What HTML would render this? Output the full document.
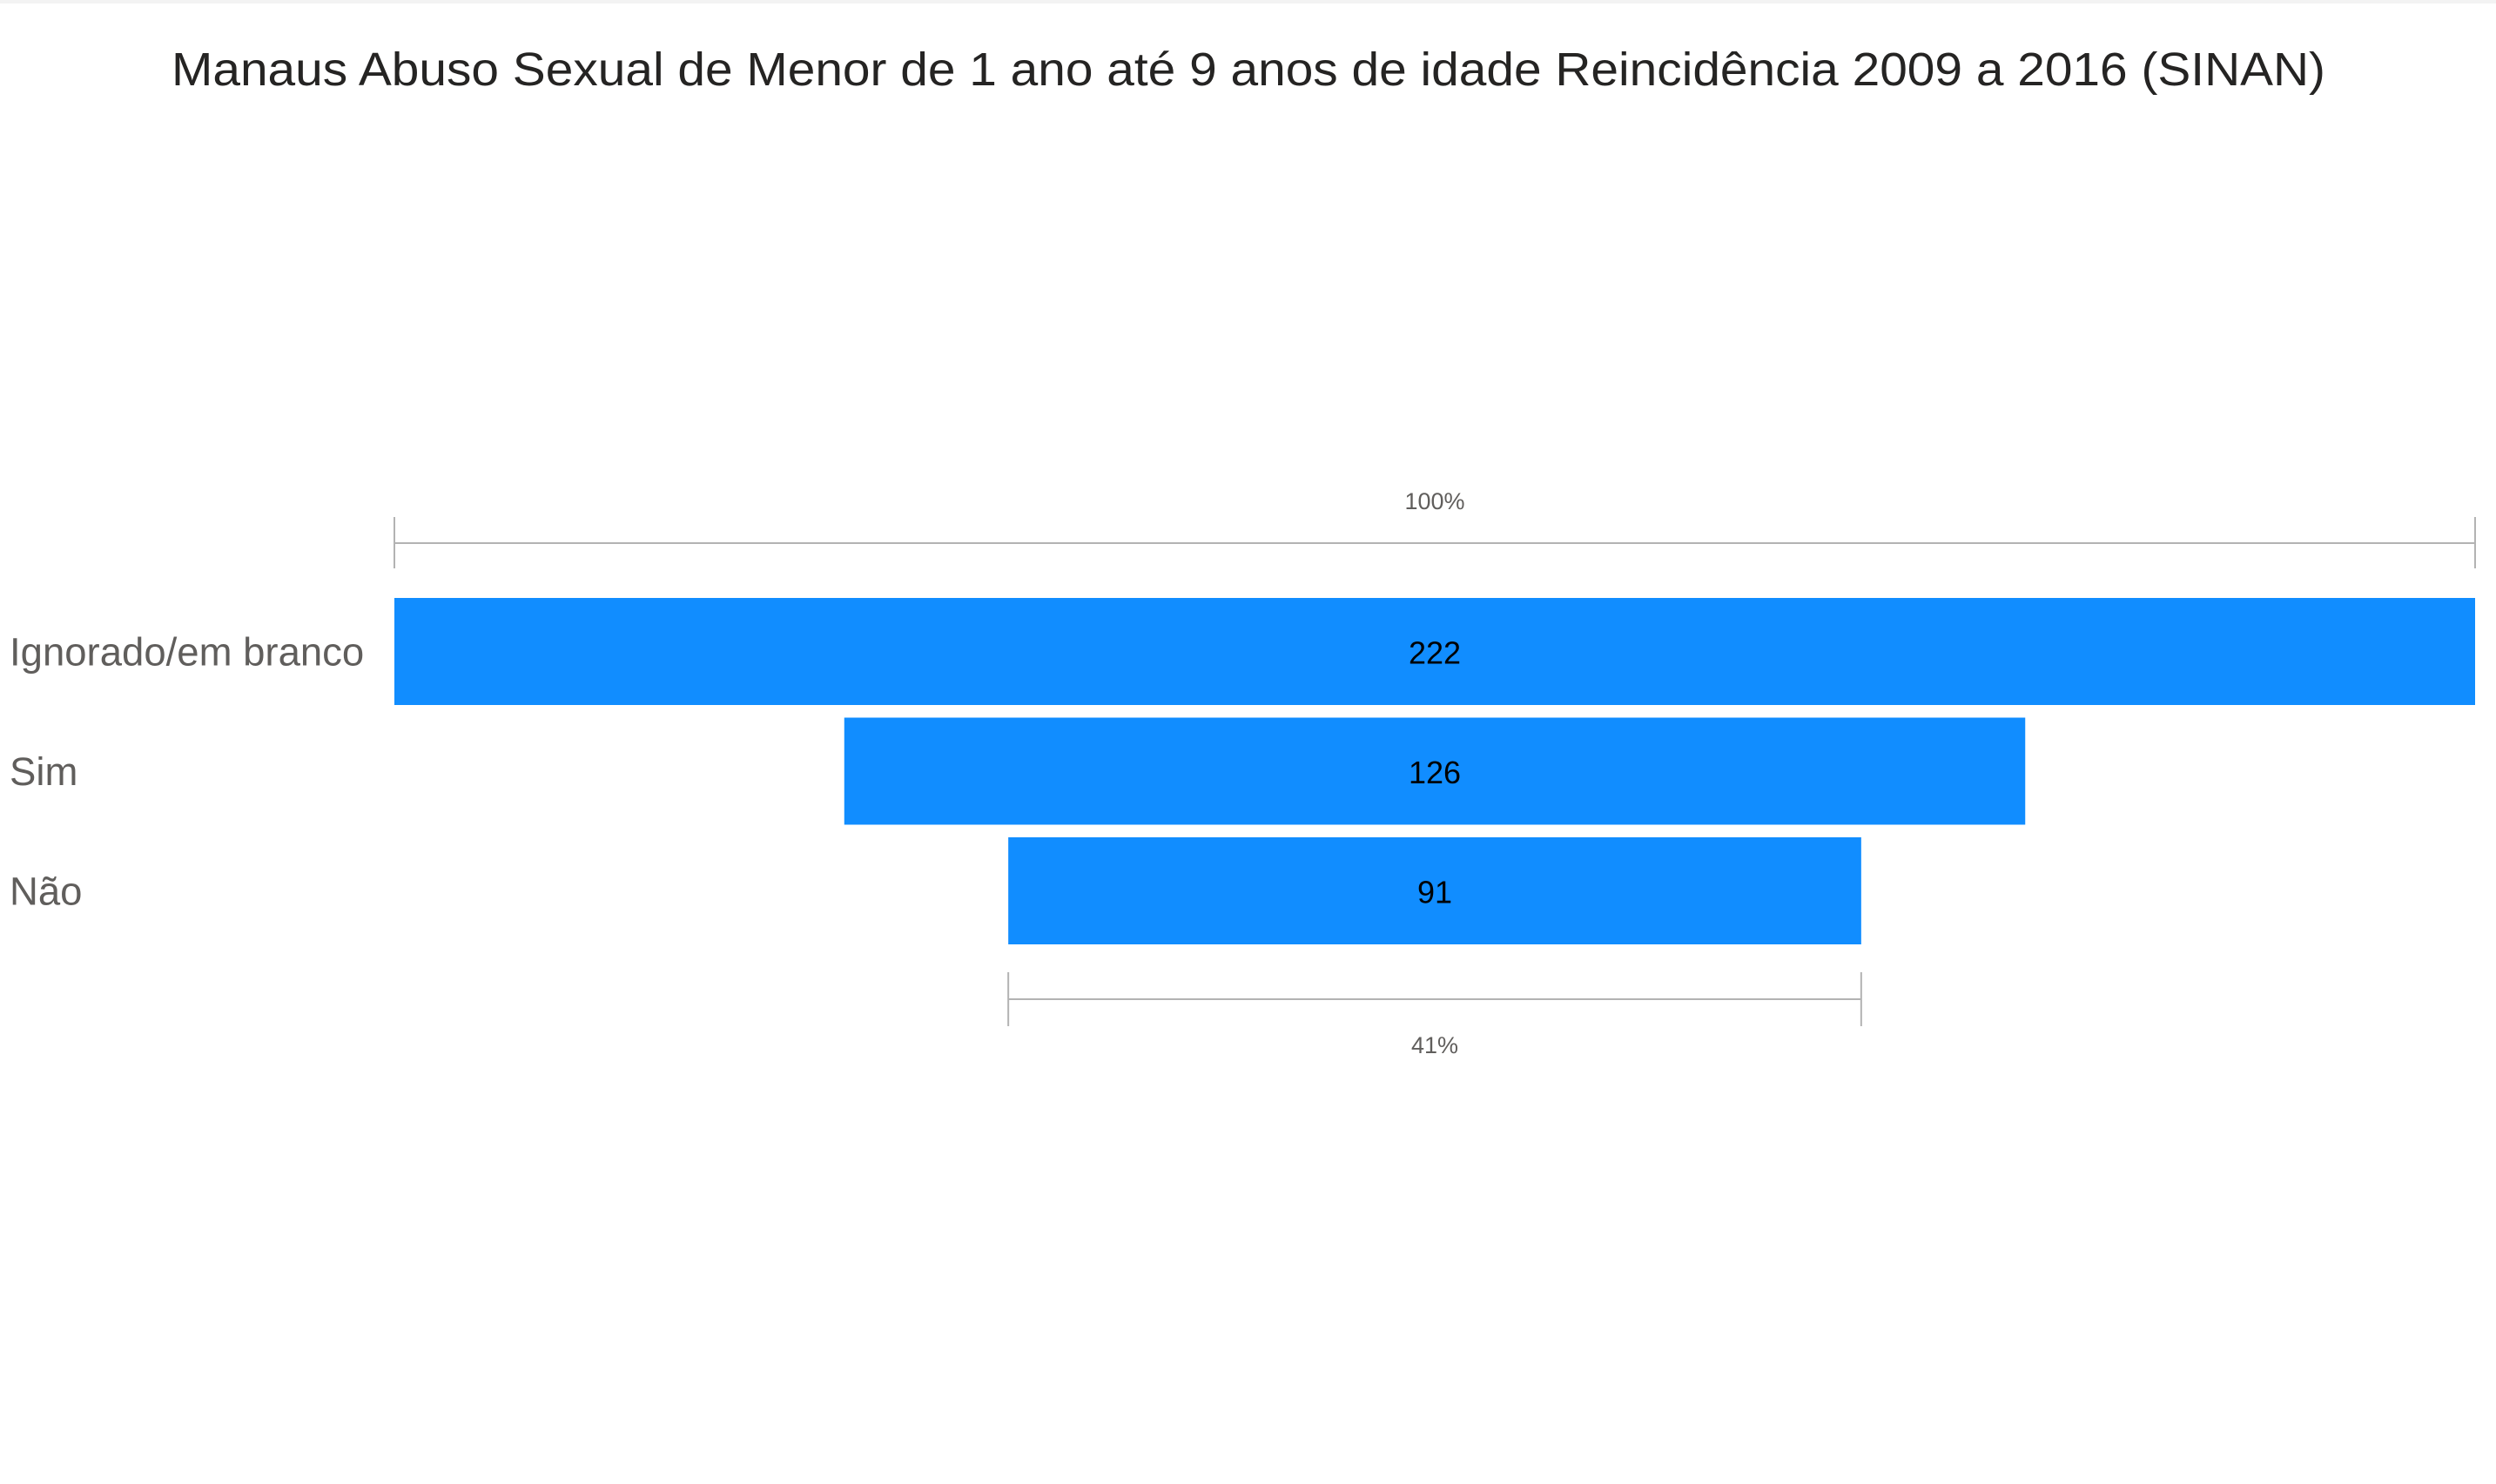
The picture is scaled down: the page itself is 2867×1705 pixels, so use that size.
<!DOCTYPE html>
<html><head><meta charset="utf-8"><style>
html,body{margin:0;padding:0;background:#fff;}
body{width:2867px;height:1700px;overflow:hidden;}
</style></head><body>
<svg width="2867" height="1700" xmlns="http://www.w3.org/2000/svg">
<rect x="0" y="0" width="2867" height="4" fill="#f3f3f3"/>
<text x="1434" y="98" text-anchor="middle" font-family="Liberation Sans, sans-serif" font-size="54" fill="#252423" textLength="2474" lengthAdjust="spacingAndGlyphs">Manaus Abuso Sexual de Menor de 1 ano até 9 anos de idade Reincidência 2009 a 2016 (SINAN)</text>
<g id="chart"></g>
</svg>
<script>
const categories = ["Ignorado/em branco", "Sim", "Não"];
const values = [222, 126, 91];
const topLabel = "100%";
const bottomLabel = "41%";

const svgNS = "http://www.w3.org/2000/svg";
const g = document.getElementById('chart');
const cx = 1648, fullW = 2390, top0 = 687, barH = 123, step = 137.5;
const maxV = Math.max(...values);
function w(v){ return v / maxV * fullW; }
function mk(tag, attrs){ const e = document.createElementNS(svgNS, tag); for (const k in attrs) e.setAttribute(k, attrs[k]); g.appendChild(e); return e; }

function bracket(x1, x2, y, t1, t2, label, ly, name){
  const l = mk('line', {x1:x1, x2:x2, y1:y, y2:y, stroke:'#b3b3b3', 'stroke-width':2});
  
  
  [x1, x2].forEach(function(x){
    const t = mk('line', {x1:x, x2:x, y1:t1, y2:t2, stroke:'#b3b3b3', 'stroke-width':2});
    
    
  });
  const tx = mk('text', {x:(x1+x2)/2, y:ly, 'text-anchor':'middle', 'font-family':'Liberation Sans, sans-serif', 'font-size':27, fill:'#605e5c'});
  tx.textContent = label;
  
  
}

bracket(cx - w(values[0])/2, cx + w(values[0])/2, 624, 594, 653, topLabel, 585, 'top-percent-bracket');

values.forEach(function(v, i){
  const y = top0 + i * step;
  const r = mk('rect', {x:cx - w(v)/2, y:y, width:w(v), height:barH, fill:'#118dff'});
  
  
  const vt = mk('text', {x:cx, y:y + barH/2 + 14, 'text-anchor':'middle', 'font-family':'Liberation Sans, sans-serif', 'font-size':36, fill:'#000'});
  vt.textContent = v;
  
  
  const ct = mk('text', {x:11, y:y + barH/2 + 16, 'font-family':'Liberation Sans, sans-serif', 'font-size':45.5, fill:'#605e5c'});
  ct.textContent = categories[i];
  
  
});

const last = values[values.length - 1];
bracket(cx - w(last)/2, cx + w(last)/2, 1148, 1117, 1179, bottomLabel, 1210, 'bottom-percent-bracket');
</script>
</body></html>
